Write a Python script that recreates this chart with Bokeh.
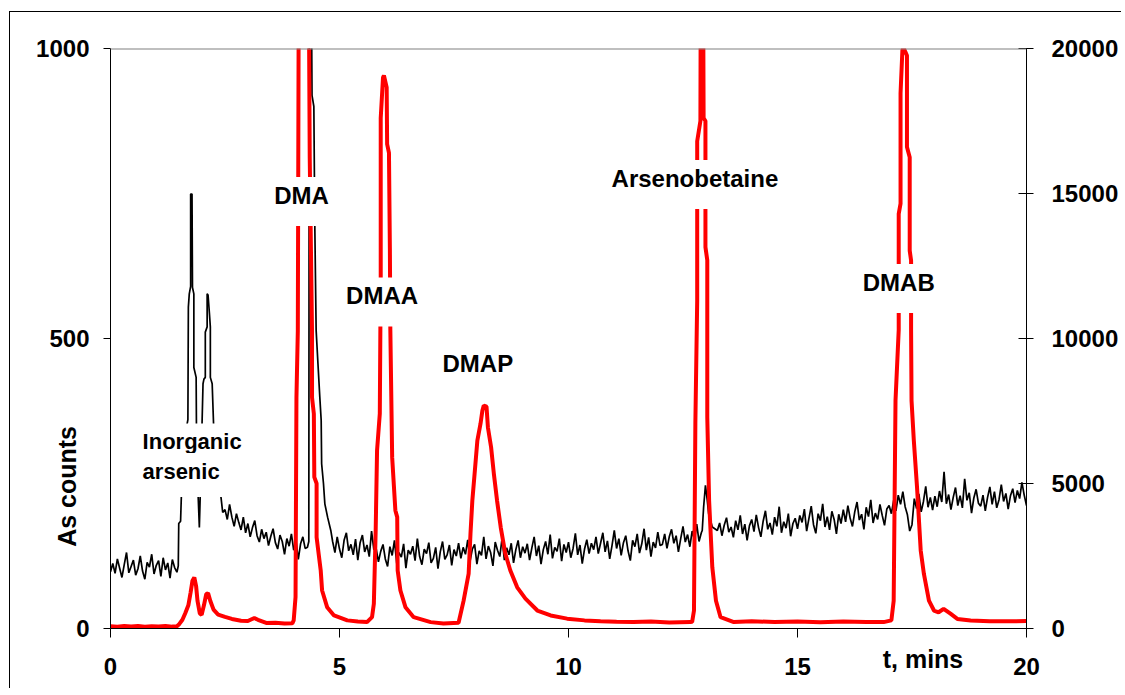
import math
from bokeh.plotting import figure
from bokeh.models import Range1d, LinearAxis, Label, Span, FixedTicker
from bokeh.embed import file_html
from bokeh.resources import INLINE

# ---------------- data ----------------
# Black trace (left axis, As counts). Noisy parts are read at a 0.05 min sampling step.
SAMPLE_STEP = 0.05

black_seg_a_start = 0.0
black_seg_a = [98, 112, 95, 120, 104, 88, 110, 131, 96, 107, 118, 92, 103, 125, 99,
               85, 114, 106, 128, 94, 109, 117, 90, 122, 101, 113, 87, 119, 105, 97]

black_inorg_t = [1.48, 1.49, 1.53, 1.56, 1.62, 1.69, 1.70, 1.72, 1.75, 1.75, 1.78, 1.79,
                 1.82, 1.82, 1.87, 1.88, 1.94, 1.97, 2.02, 2.04, 2.07, 2.07, 2.11, 2.11,
                 2.13, 2.16, 2.18, 2.18, 2.22, 2.26, 2.33, 2.40, 2.45]
black_inorg_c = [108, 181, 185, 260, 330, 360, 554, 577, 590, 749, 749, 588,
                 577, 450, 433, 300, 174, 260, 422, 430, 433, 511, 520, 577,
                 575, 543, 520, 433, 422, 330, 270, 235, 200]

black_seg_b_start = 2.50
black_seg_b = [205, 188, 214, 192, 176, 198, 183, 170, 192, 165, 181, 158, 174, 186, 160,
               149, 171, 155, 166, 143, 159, 172, 148, 137, 161, 150, 128, 155, 142, 163,
               135, 151, 119, 146, 158, 138]

black_dma_t = [4.30, 4.33, 4.34, 4.38, 4.39, 4.40, 4.44, 4.46, 4.49, 4.53, 4.57, 4.60,
               4.61, 4.65, 4.68, 4.74, 4.81]
black_dma_c = [140, 150, 1100, 1100, 1050, 919, 900, 700, 514, 456, 399, 359,
               284, 250, 215, 192, 169]

black_seg_c_start = 4.85
black_seg_c = [150, 131, 158, 137, 122, 152, 165, 134, 145, 127, 154, 118, 148, 161, 132,
               144, 124, 168, 136,
               138, 115, 133, 145, 120, 107, 141, 126, 152, 112, 131, 123, 146, 104, 135,
               128, 142, 117, 155, 124, 110, 137, 129, 148, 113, 121, 140, 103, 132, 150,
               119, 127, 144, 109, 136, 125, 147,
               121, 140, 128, 153, 116, 137, 145, 111, 134, 126, 158, 120, 142, 131, 108,
               149, 135, 124, 156, 118, 139, 127, 147, 113, 136, 152, 122, 141,
               130, 146, 118, 139, 158, 125, 143, 111, 136, 150, 128, 162, 121, 140, 133,
               155, 116, 145, 131, 149, 122, 138, 164, 127, 144, 112, 137, 153, 129, 147,
               136, 158, 129, 147, 165, 132, 151, 120, 143, 169, 138, 155, 126, 148, 160,
               134, 117, 152, 141, 163, 130, 146, 172, 135, 157, 124, 149, 139, 166, 143,
               145, 163, 138, 158, 171, 147, 160, 132, 155, 176, 149, 162, 141, 168, 153,
               180, 150]

black_asb_t = [12.90, 12.92, 12.95, 12.99, 13.03, 13.06, 13.14, 13.25]
black_asb_c = [165, 169, 209, 247, 221, 198, 175, 169]

black_seg_d_start = 13.30
black_seg_d = [182, 160, 178, 191, 166, 175, 157, 186, 170, 195, 163, 180, 152, 177,
               188, 167, 196, 174, 158, 185, 203, 171, 182, 162, 192, 176, 210, 165, 184,
               173, 198, 159, 181, 190,
               172, 195, 183, 206, 168, 190, 211, 179, 164, 198, 186, 215, 175, 193, 170,
               202, 188, 163, 197, 181,
               205, 184, 212, 190, 176, 201, 218, 187, 197, 171, 209, 193, 222, 182, 199,
               188, 214, 195, 178, 206,
               212, 198, 221, 203, 230, 214, 236, 210, 196, 168, 179, 224, 207, 232, 201,
               219, 245, 209, 226, 204,
               228, 210, 237, 218, 270, 215, 231, 205, 226, 243, 212, 229, 208, 258, 221,
               234, 199, 225, 240, 216,
               211, 230, 203, 226, 244, 214, 236, 208, 222, 248, 219, 233, 206, 229, 241,
               217, 238, 224, 252, 230, 212]

# Red trace (right axis)
red_t = [0.00, 0.15, 0.30, 0.45, 0.60, 0.75, 0.90, 1.05, 1.20, 1.35, 1.45, 1.50, 1.57, 1.63,
         1.70, 1.75, 1.79, 1.83, 1.87, 1.90, 1.95, 1.99, 2.04, 2.09, 2.13, 2.18, 2.25, 2.35,
         2.50, 2.65, 2.85, 3.00, 3.08, 3.14, 3.22, 3.40, 3.60, 3.80, 3.97, 4.00, 4.04, 4.06,
         4.09, 4.11, 4.20, 4.33, 4.35, 4.40, 4.40, 4.44, 4.45, 4.50, 4.50, 4.59, 4.62, 4.73,
         4.88, 5.17, 5.40, 5.60, 5.71, 5.75, 5.79, 5.82, 5.88, 5.90, 5.90, 5.95, 5.97, 6.03,
         6.04, 6.08, 6.10, 6.11, 6.15, 6.22, 6.26, 6.27, 6.33, 6.44, 6.62, 6.99, 7.27, 7.60,
         7.71, 7.82, 7.86, 7.90, 7.95, 8.01, 8.08, 8.12, 8.15, 8.21, 8.24, 8.31, 8.37, 8.44,
         8.52, 8.62, 8.73, 8.88, 9.06, 9.32, 9.61, 9.97, 10.35, 10.70, 11.05, 11.42, 11.80,
         12.20, 12.66, 12.70, 12.74, 12.77, 12.81, 12.81, 12.88, 12.90, 12.93, 12.94, 12.95,
         12.99, 12.99, 13.03, 13.03, 13.07, 13.14, 13.22, 13.32, 13.61, 14.00, 14.50, 15.00,
         15.50, 16.00, 16.50, 16.88, 17.05, 17.10, 17.14, 17.21, 17.21, 17.25, 17.25, 17.29,
         17.31, 17.35, 17.39, 17.39, 17.45, 17.45, 17.48, 17.48, 17.49, 17.54, 17.61, 17.69,
         17.76, 17.87, 17.98, 18.08, 18.19, 18.34, 18.49, 18.78, 19.20, 19.72, 20.00]
red_v = [80, 60, 90, 70, 85, 60, 80, 70, 90, 65, 80, 150, 300, 520,
         800, 1250, 1650, 1760, 1450, 950, 520, 470, 800, 1180, 1220, 950, 650, 480,
         400, 330, 270, 260, 320, 360, 300, 190, 200, 170, 180, 280, 1080, 7970,
         10270, 22000, 40000, 22000, 16240, 10270, 7970, 7400, 5220, 5000, 3150, 2000, 1310, 735,
         450, 280, 240, 220, 390, 850, 3380, 6140, 7410, 12100, 17600, 19000, 19070, 18660,
         16700, 16400, 13100, 10300, 5900, 4070, 3840, 2000, 1310, 735, 390, 220, 170, 200,
         960, 1890, 3270, 4400, 5340, 6480, 7070, 7520, 7690, 7650, 6940, 6250, 5340, 4410,
         3490, 2580, 2000, 1420, 1030, 620, 450, 340, 280, 250, 230, 220, 240,
         210, 220, 230, 620, 7070, 11300, 16800, 17500, 30000, 30000, 22000, 17600,
         17500, 13150, 12700, 7290, 4410, 2110, 960, 390, 220, 250, 225, 240,
         215, 245, 225, 220, 280, 960, 7860, 10300, 14300, 14650, 18450, 19930,
         20050, 19900, 19760, 16600, 16250, 13030, 12690, 10300, 7860, 6480, 4870, 2690,
         1880, 960, 620, 560, 680, 510, 330, 276, 250, 250, 260]

x_ticks = [0, 5, 10, 15, 20]
left_ticks = [0, 500, 1000]
right_ticks = [0, 5000, 10000, 15000, 20000]

x_title = "t, mins"
x_title_pos = 17.74
y_title = "As counts"
y_title_pos = 245

peak_labels = ["DMA", "DMAA", "DMAP", "Arsenobetaine", "DMAB"]
peak_label_t = [4.17, 5.93, 8.02, 12.76, 17.21]
peak_label_c = [736.0, 563.0, 446.6, 765.5, 586.0]

inorg_lines = ["Inorganic", "arsenic"]
inorg_t = 0.57
inorg_c = [321.6, 264.6]


def sampled(start, vals):
    return [round(start + i * SAMPLE_STEP, 3) for i in range(len(vals))]


black_t = (sampled(black_seg_a_start, black_seg_a) + black_inorg_t
           + sampled(black_seg_b_start, black_seg_b) + black_dma_t
           + sampled(black_seg_c_start, black_seg_c) + black_asb_t
           + sampled(black_seg_d_start, black_seg_d))
black_c = (black_seg_a + black_inorg_c + black_seg_b + black_dma_c
           + black_seg_c + black_asb_c + black_seg_d)

# ---------------- figure ----------------
FONT = "Liberation Sans"

p = figure(frame_width=916, frame_height=580,
           x_range=Range1d(0, 20), y_range=Range1d(0, 1000),
           output_backend="svg", toolbar_location=None,
           min_border_left=100, min_border_top=36, min_border_right=90,
           min_border_bottom=60)
p.margin = (11, 0, 0, 9)
p.styles = {"border-left": "1px solid black", "border-top": "1px solid black"}
p.extra_y_ranges = {"right": Range1d(0, 20000)}
p.grid.visible = False
p.outline_line_color = None
p.background_fill_color = "white"
p.border_fill_color = "white"

p.line(black_t, black_c, line_color="black", line_width=1.7)
p.line(red_t, red_v, line_color="#ff0000", line_width=4, y_range_name="right")

p.add_layout(Span(location=1000, dimension="width", line_color="#808080", line_width=2))


def style_axis(ax):
    ax.axis_line_color = "black"
    ax.axis_line_width = 1
    ax.major_tick_line_color = "black"
    ax.minor_tick_line_color = None
    ax.major_label_text_font = FONT
    ax.major_label_text_font_size = "24px"
    ax.major_label_text_font_style = "bold"
    ax.major_label_text_color = "black"


xa = p.xaxis[0]
style_axis(xa)
xa.ticker = FixedTicker(ticks=x_ticks)
xa.major_tick_in = 0
xa.major_tick_out = 9
xa.major_label_standoff = 20

ya = p.yaxis[0]
style_axis(ya)
ya.ticker = FixedTicker(ticks=left_ticks)
ya.major_tick_in = 0
ya.major_tick_out = 7
ya.major_label_standoff = 14

ra = LinearAxis(y_range_name="right")
style_axis(ra)
ra.ticker = FixedTicker(ticks=right_ticks)
ra.major_tick_in = 8
ra.major_tick_out = 7
ra.major_label_standoff = 18
p.add_layout(ra, "right")

# axis titles, placed through extra label-only axes
yt = LinearAxis(ticker=FixedTicker(ticks=[y_title_pos]),
                major_label_overrides={y_title_pos: y_title})
style_axis(yt)
yt.axis_line_color = None
yt.major_tick_line_color = None
yt.major_tick_in = 0
yt.major_tick_out = 0
yt.major_label_orientation = "vertical"
yt.major_label_text_font_size = "25px"
yt.major_label_standoff = -48
p.add_layout(yt, "left")

xt = LinearAxis(ticker=FixedTicker(ticks=[x_title_pos]),
                major_label_overrides={x_title_pos: x_title})
style_axis(xt)
xt.axis_line_color = None
xt.major_tick_line_color = None
xt.major_tick_in = 0
xt.major_tick_out = 0
xt.major_label_text_font_size = "25px"
xt.major_label_standoff = -33
p.add_layout(xt, "below")

for txt, tx, cy in zip(peak_labels, peak_label_t, peak_label_c):
    p.add_layout(Label(x=tx, y=cy, text=txt, text_align="center",
                       text_baseline="middle", text_font=FONT,
                       text_font_size="24px", text_font_style="bold",
                       text_color="black", background_fill_color="white",
                       padding=(6, 6, 5, 17)))

p.add_layout(Label(x=inorg_t, y=inorg_c[0], text=inorg_lines[0], text_align="left",
                   text_baseline="middle", text_font=FONT, text_font_size="22px",
                   text_font_style="bold", text_color="black",
                   background_fill_color="white", padding=(6, 6, 6, 6)))
p.add_layout(Label(x=inorg_t, y=inorg_c[1], text=inorg_lines[1], text_align="left",
                   text_baseline="middle", text_font=FONT, text_font_size="22px",
                   text_font_style="bold", text_color="black",
                   background_fill_color="white", padding=(6, 6, 6, 13)))

open("out.html", "w").write(file_html(p, INLINE))
